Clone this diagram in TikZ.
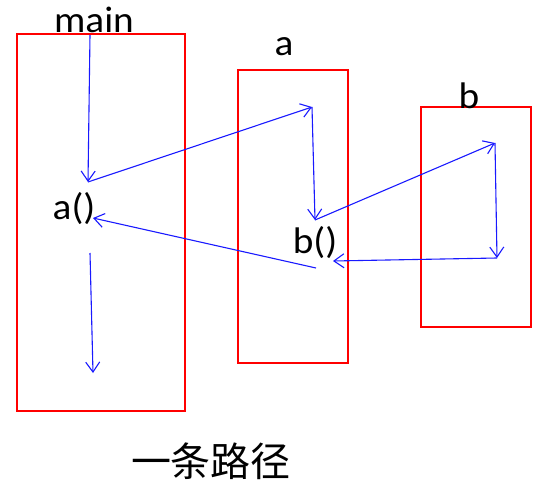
\documentclass[tikz,border=0pt]{standalone}
\usepackage{fontspec}
\newfontfamily\callfont{Carlito}
\newfontfamily\cjkfont{Noto Sans CJK SC}
\usetikzlibrary{arrows.meta, positioning}

\begin{document}
\begin{tikzpicture}[
    x=1pt, y=-1pt,
    >={Straight Barb[length=10pt, width=14pt]},
    frame/.style={rectangle, draw=red, line width=2.8pt, inner sep=0pt, outer sep=0pt},
    lbl/.style={font=\callfont\fontsize{37}{40}\selectfont, inner sep=0pt, anchor=base, xscale=1.06},
    flow/.style={->, draw=blue!90!white, line width=1.1pt},
    caption/.style={font=\cjkfont\fontsize{40}{44}\selectfont, inner sep=0pt, anchor=base}
]
\useasboundingbox (0,0) rectangle (542,493);

% ---- Frames ----
\node[frame, minimum width=168pt, minimum height=377pt] (mainbox) at (101,222.5) {};
\node[frame, minimum width=110pt, minimum height=293pt] (abox) at (293,216.5) {};
\node[frame, minimum width=110pt, minimum height=220pt] (bbox) at (476,217) {};

% ---- Labels ----
\node[lbl] (mainlbl) at (94,32) {main};
\node[lbl] (albl) at (284,55) {a};
\node[lbl] (blbl) at (469,108) {b};
\node[lbl] (callA) at (74,219) {a()};
\node[lbl] (callB) at (315,253) {b()};
\node[caption] (path) at (211,476) {一条路径};

% ---- Waypoints ----
\coordinate (mstart) at (90,35);
\coordinate (ain) at (88,182);
\coordinate (atop) at (312,107);
\coordinate (bcall) at (315,220);
\coordinate (btop) at (495,143);
\coordinate (bend) at (497,258);
\coordinate (bret) at (333,261);
\coordinate (aout) at (316,268);
\coordinate (aret) at (93,218);
\coordinate (mresume) at (90,253);
\coordinate (mend) at (93,373);

% ---- Connections ----
\draw[flow] (mstart) -- (ain);
\draw[flow] (ain) -- (atop);
\draw[flow] (atop) -- (bcall);
\draw[flow] (bcall) -- (btop);
\draw[flow] (btop) -- (bend);
\draw[flow] (bend) -- (bret);
\draw[flow] (aout) -- (aret);
\draw[flow] (mresume) -- (mend);

\end{tikzpicture}
\end{document}
